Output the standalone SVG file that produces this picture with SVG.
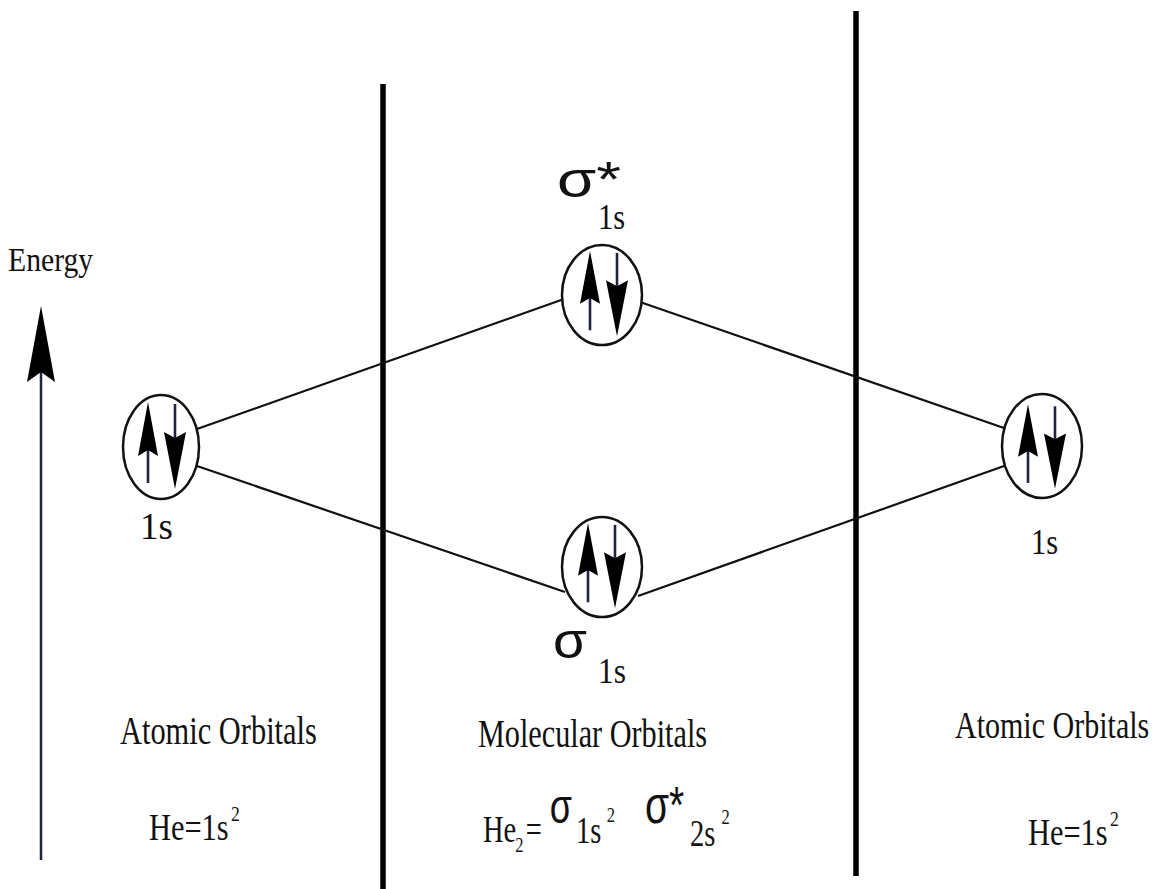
<svg xmlns="http://www.w3.org/2000/svg" width="1160" height="889" viewBox="0 0 1160 889">
<style>
.t{font-family:"Liberation Serif","Times New Roman",serif;fill:#111}
.s{font-family:"Liberation Sans",Arial,sans-serif;fill:#111}
.orb{fill:#fff;stroke:#111;stroke-width:2.5}
.ln{stroke:#111;stroke-width:2.2;fill:none}
.sh{stroke:#222244;stroke-width:2.6}
.hd{fill:#000}
.wall{stroke:#000;stroke-width:5.5}
</style>
<defs>
<g id="pair">
<line class="sh" x1="-13" y1="-30" x2="-13" y2="36"/>
<polygon class="hd" points="-13,-45 -23,9 -13,3 -3,9"/>
<line class="sh" x1="14" y1="-43" x2="14" y2="0"/>
<polygon class="hd" points="14,42 3,-15 14,-9 25,-15"/>
</g>
</defs>
<rect width="1160" height="889" fill="#fff"/>
<g id="walls">
<line class="wall" x1="383" y1="84" x2="383" y2="889"/>
<line class="wall" x1="856" y1="11" x2="856" y2="876"/>
</g>
<g id="energy-axis">
<line x1="41" y1="360" x2="41" y2="860" stroke="#222244" stroke-width="2.5"/>
<polygon class="hd" points="41,306 55,382 41,372 27,382"/>
<text class="t" transform="translate(8,271) scale(0.9,1)" font-size="33">Energy</text>
</g>
<g id="connectors">
<line class="ln" x1="197" y1="429" x2="564" y2="299"/>
<line class="ln" x1="197" y1="466" x2="565" y2="592"/>
<line class="ln" x1="640" y1="302" x2="1004" y2="428"/>
<line class="ln" x1="638" y1="596" x2="1004" y2="466"/>
</g>
<g id="ao-left">
<ellipse class="orb" cx="161" cy="447" rx="38" ry="52"/>
<use href="#pair" transform="translate(161,447)"/>
<text class="t" x="140" y="539" font-size="37">1s</text>
</g>
<g id="mo-antibonding">
<ellipse class="orb" cx="602" cy="295" rx="40" ry="50"/>
<use href="#pair" transform="translate(603,295) scale(1,0.98)"/>
<text class="s" x="557" y="197" font-size="50" textLength="64" lengthAdjust="spacingAndGlyphs">σ*</text>
<text class="t" transform="translate(598,229) scale(0.87,1)" font-size="35">1s</text>
</g>
<g id="mo-bonding">
<ellipse class="orb" cx="602" cy="567" rx="40" ry="50"/>
<use href="#pair" transform="translate(601,567) scale(1,0.98)"/>
<text class="s" x="553" y="658" font-size="50" textLength="34" lengthAdjust="spacingAndGlyphs">σ</text>
<text class="t" transform="translate(598,683) scale(0.9,1)" font-size="35">1s</text>
</g>
<g id="ao-right">
<ellipse class="orb" cx="1042" cy="446" rx="40" ry="52"/>
<use href="#pair" transform="translate(1041,448) scale(1,0.97)"/>
<text class="t" transform="translate(1031,554) scale(0.87,1)" font-size="35">1s</text>
</g>
<g id="labels">
<text class="t" transform="translate(120,744) scale(0.78,1)" font-size="39">Atomic Orbitals</text>
<text class="t" transform="translate(478,747) scale(0.775,1)" font-size="39">Molecular Orbitals</text>
<text class="t" transform="translate(955,738) scale(0.79,1)" font-size="38">Atomic Orbitals</text>
<text class="t" transform="translate(149,840) scale(0.8,1)" font-size="38">He=1s<tspan dx="3" dy="-19" font-size="22">2</tspan></text>
<text class="t" transform="translate(1028,845) scale(0.8,1)" font-size="38">He=1s<tspan dx="3" dy="-19" font-size="22">2</tspan></text>
<text class="t" transform="translate(483,842) scale(0.75,1)" font-size="38">He<tspan x="43" dy="10" font-size="22">2</tspan><tspan x="57" dy="-10">=</tspan><tspan class="s" x="89" dy="-19" font-size="48">σ</tspan><tspan x="124" dy="20">1s</tspan><tspan x="165" dy="-21" font-size="22">2</tspan><tspan class="s" x="216" dy="1" font-size="52">σ*</tspan><tspan x="276" dy="23">2s</tspan><tspan x="318" dy="-22" font-size="22">2</tspan></text>
</g>
</svg>
